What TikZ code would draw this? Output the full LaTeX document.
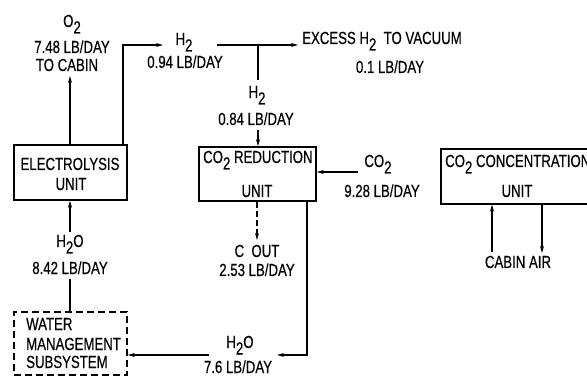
\documentclass[tikz,border=0pt]{standalone}
\usepackage{fontspec}
\setmainfont{Liberation Sans}[FakeStretch=0.755,FakeBold=0.4]
\usetikzlibrary{arrows.meta}
\newcommand\sbx[1]{\raisebox{-6.5pt}{#1}}
\begin{document}
\begin{tikzpicture}[x=1pt,y=-1pt,
 lbl/.style={inner sep=0pt, font=\fontsize{17.5}{19}\selectfont, anchor=base},
 lblw/.style={lbl, anchor=base west},
 box/.style={draw, line width=1.6pt, inner sep=0pt},
 wire/.style={line width=1.5pt},
 arr/.style={wire, -{Stealth[length=7pt,width=4pt]}}]
\clip (0,0) rectangle (587,377);
% boxes
\node[box, minimum width=113pt, minimum height=55pt] (elec) at (70.5,172.5) {};
\node[box, minimum width=117pt, minimum height=54pt] (red) at (257.5,174) {};
\node[box, minimum width=160pt, minimum height=55pt, anchor=north west] (conc) at (440,148) {};
\node[box, dash pattern=on 7pt off 4pt, minimum width=113pt, minimum height=63pt] (wms) at (70.5,343.5) {};
% box texts
\node[lbl] (t-elec1) at (70,170) {ELECTROLYSIS};
\node[lbl] (t-elec2) at (71,190) {UNIT};
\node[lblw] (t-red1) at (203,163) {CO\sbx{2} REDUCTION};
\node[lbl] (t-red2) at (257,197) {UNIT};
\node[lblw] (t-conc1) at (445,167) {CO\sbx{2} CONCENTRATION};
\node[lbl] (t-conc2) at (517,197) {UNIT};
\node[lblw] (t-wms1) at (26,330) {WATER};
\node[lblw] (t-wms2) at (26,350) {MANAGEMENT};
\node[lblw] (t-wms3) at (26,368) {SUBSYSTEM};
% flow labels
\node[lbl] (t-o2) at (72,27) {O\sbx{2}};
\node[lbl] (t-o2r) at (72,53) {7.48 LB/DAY};
\node[lbl] (t-o2c) at (67,71) {TO CABIN};
\node[lbl] (t-h2a) at (184,45) {H\sbx{2}};
\node[lbl] (t-h2ar) at (185,68) {0.94 LB/DAY};
\node[lblw] (t-ex) at (302,44) {EXCESS H\sbx{2}\ \ TO VACUUM};
\node[lbl] (t-exr) at (390,73) {0.1 LB/DAY};
\node[lbl] (t-h2b) at (257,98) {H\sbx{2}};
\node[lbl] (t-h2br) at (256,125) {0.84 LB/DAY};
\node[lbl] (t-co2) at (378,167) {CO\sbx{2}};
\node[lbl] (t-co2r) at (382,197) {9.28 LB/DAY};
\node[lbl] (t-cout) at (257,257) {C\ \ OUT};
\node[lbl] (t-coutr) at (257,276) {2.53 LB/DAY};
\node[lbl] (t-h2oa) at (70,247) {H\sbx{2}O};
\node[lbl] (t-h2oar) at (70,274) {8.42 LB/DAY};
\node[lbl] (t-h2ob) at (240,348) {H\sbx{2}O};
\node[lbl] (t-h2obr) at (238,373) {7.6 LB/DAY};
\node[lbl] (t-ca) at (518,268) {CABIN AIR};
% coordinates
\coordinate (o2tip) at (70,76);
\coordinate (h2turn) at (123,45);
\coordinate (h2tip) at (163,45);
\coordinate (h2start) at (217,45);
\coordinate (extip) at (298,45);
\coordinate (brtop) at (258,45);
\coordinate (brbot) at (258,80);
\coordinate (brin) at (258,130);
\coordinate (co2start) at (358,172);
\coordinate (couttip) at (257,240);
\coordinate (rcorner) at (307,355);
\coordinate (rtip) at (277,355);
\coordinate (wstart) at (209,355);
\coordinate (h2olow) at (70,279);
\coordinate (h2oup) at (70,232);
\coordinate (ca1) at (492,252);
\coordinate (ca2) at (542,253);
% connectors
\draw[arr] (o2tip |- elec.north) -- (o2tip);
\draw[arr] (h2turn |- elec.north) -- (h2turn) -- (h2tip);
\draw[arr] (h2start) -- (extip);
\draw[wire] (brtop) -- (brbot);
\draw[arr] (brin) -- (brin |- red.north);
\draw[arr] (co2start) -- (co2start -| red.east);
\draw[arr, dash pattern=on 6pt off 3pt] (couttip |- red.south) -- (couttip);
\draw[arr] (rcorner |- red.south) -- (rcorner) -- (rtip);
\draw[arr] (wstart) -- (wstart -| wms.east);
\draw[wire] (h2olow |- wms.north) -- (h2olow);
\draw[arr] (h2oup) -- (h2oup |- elec.south);
\draw[arr] (ca1) -- (ca1 |- conc.south);
\draw[arr] (ca2 |- conc.south) -- (ca2);
\end{tikzpicture}
\end{document}
